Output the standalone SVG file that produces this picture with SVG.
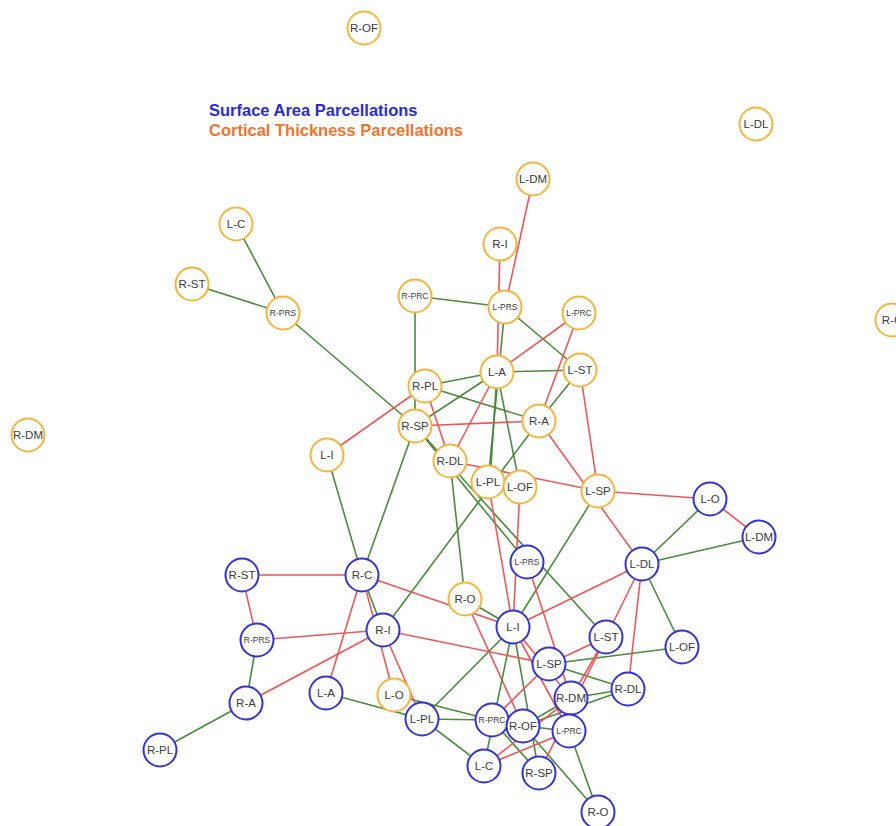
<svg xmlns="http://www.w3.org/2000/svg" width="896" height="826" viewBox="0 0 896 826">
<style>
.g{stroke:#4b8a3e;stroke-width:1.6;fill:none}
.r{stroke:#e8585a;stroke-width:1.6;fill:none}
.o circle{fill:#fff;stroke:#f2b440;stroke-width:2}
.b circle{fill:#fff;stroke:#3333d0;stroke-width:2}
text{font-family:"Liberation Sans",Arial,sans-serif;fill:#3a3a3a;font-size:11.5px;text-anchor:middle}
text.s{font-size:8.5px}
.leg{font-size:16.5px;font-weight:bold;text-anchor:start}
</style>
<rect width="896" height="826" fill="#fff"/>
<g id="legend">
<text class="leg" x="209" y="116" style="fill:#2b2bd0">Surface Area Parcellations</text>
<text class="leg" x="209" y="136" style="fill:#f07430">Cortical Thickness Parcellations</text>
</g>
<g id="connectors">
<line class="g" x1="236" y1="224" x2="283" y2="313"/>
<line class="g" x1="192" y1="284" x2="283" y2="313"/>
<line class="g" x1="283" y1="313" x2="415" y2="426"/>
<line class="g" x1="415" y1="296" x2="505" y2="307"/>
<line class="g" x1="415" y1="296" x2="415" y2="426"/>
<line class="g" x1="505" y1="307" x2="580" y2="370"/>
<line class="g" x1="505" y1="307" x2="488" y2="482"/>
<line class="g" x1="497" y1="372" x2="490" y2="482"/>
<line class="g" x1="497" y1="372" x2="520" y2="487"/>
<line class="g" x1="497" y1="372" x2="580" y2="370"/>
<line class="g" x1="425" y1="386" x2="497" y2="372"/>
<line class="g" x1="415" y1="426" x2="497" y2="372"/>
<line class="g" x1="425" y1="386" x2="539" y2="421"/>
<line class="g" x1="580" y1="370" x2="539" y2="421"/>
<line class="g" x1="539" y1="421" x2="383" y2="630"/>
<line class="g" x1="450" y1="461" x2="465" y2="599"/>
<line class="g" x1="327" y1="455" x2="362" y2="575"/>
<line class="g" x1="415" y1="426" x2="362" y2="575"/>
<line class="g" x1="415" y1="426" x2="606" y2="637"/>
<line class="g" x1="415" y1="426" x2="527" y2="562"/>
<line class="g" x1="598" y1="491" x2="513" y2="627"/>
<line class="g" x1="465" y1="599" x2="513" y2="627"/>
<line class="r" x1="533" y1="179" x2="505" y2="307"/>
<line class="r" x1="500" y1="244" x2="497" y2="372"/>
<line class="r" x1="497" y1="372" x2="579" y2="313"/>
<line class="r" x1="579" y1="313" x2="539" y2="421"/>
<line class="r" x1="497" y1="372" x2="450" y2="461"/>
<line class="r" x1="425" y1="386" x2="450" y2="461"/>
<line class="r" x1="327" y1="455" x2="425" y2="386"/>
<line class="r" x1="415" y1="426" x2="539" y2="421"/>
<line class="r" x1="580" y1="370" x2="598" y2="491"/>
<line class="r" x1="539" y1="421" x2="642" y2="564"/>
<line class="r" x1="450" y1="461" x2="598" y2="491"/>
<line class="r" x1="598" y1="491" x2="710" y2="499"/>
<line class="r" x1="520" y1="487" x2="513" y2="627"/>
<line class="r" x1="488" y1="482" x2="513" y2="627"/>
<line class="r" x1="465" y1="599" x2="523" y2="726"/>
<line class="g" x1="642" y1="564" x2="710" y2="499"/>
<line class="g" x1="642" y1="564" x2="759" y2="537"/>
<line class="g" x1="642" y1="564" x2="682" y2="647"/>
<line class="g" x1="549" y1="664" x2="682" y2="647"/>
<line class="g" x1="549" y1="664" x2="628" y2="689"/>
<line class="g" x1="628" y1="689" x2="571" y2="698"/>
<line class="g" x1="628" y1="689" x2="523" y2="726"/>
<line class="g" x1="571" y1="698" x2="523" y2="726"/>
<line class="g" x1="523" y1="726" x2="569" y2="731"/>
<line class="g" x1="523" y1="726" x2="598" y2="812"/>
<line class="g" x1="569" y1="731" x2="598" y2="812"/>
<line class="g" x1="513" y1="627" x2="484" y2="766"/>
<line class="g" x1="513" y1="627" x2="539" y2="773"/>
<line class="g" x1="513" y1="627" x2="422" y2="719"/>
<line class="g" x1="422" y1="719" x2="492" y2="720"/>
<line class="g" x1="422" y1="719" x2="484" y2="766"/>
<line class="g" x1="326" y1="693" x2="422" y2="719"/>
<line class="g" x1="394" y1="695" x2="492" y2="720"/>
<line class="g" x1="362" y1="575" x2="383" y2="630"/>
<line class="g" x1="257" y1="640" x2="246" y2="703"/>
<line class="g" x1="246" y1="703" x2="160" y2="750"/>
<line class="g" x1="492" y1="720" x2="539" y2="773"/>
<line class="r" x1="710" y1="499" x2="759" y2="537"/>
<line class="r" x1="642" y1="564" x2="513" y2="627"/>
<line class="r" x1="642" y1="564" x2="606" y2="637"/>
<line class="r" x1="642" y1="564" x2="628" y2="689"/>
<line class="r" x1="606" y1="637" x2="549" y2="664"/>
<line class="r" x1="606" y1="637" x2="571" y2="698"/>
<line class="r" x1="606" y1="637" x2="539" y2="773"/>
<line class="r" x1="513" y1="627" x2="571" y2="698"/>
<line class="r" x1="513" y1="627" x2="569" y2="731"/>
<line class="r" x1="527" y1="562" x2="571" y2="698"/>
<line class="r" x1="484" y1="766" x2="569" y2="731"/>
<line class="r" x1="484" y1="766" x2="571" y2="698"/>
<line class="r" x1="242" y1="575" x2="362" y2="575"/>
<line class="r" x1="242" y1="575" x2="257" y2="640"/>
<line class="r" x1="257" y1="640" x2="383" y2="630"/>
<line class="r" x1="246" y1="703" x2="383" y2="630"/>
<line class="r" x1="362" y1="575" x2="326" y2="693"/>
<line class="r" x1="362" y1="575" x2="394" y2="695"/>
<line class="r" x1="383" y1="630" x2="422" y2="719"/>
<line class="r" x1="362" y1="575" x2="513" y2="627"/>
<line class="r" x1="383" y1="630" x2="549" y2="664"/>
<line class="r" x1="492" y1="720" x2="549" y2="664"/>
</g>
<g id="n-ROF-ct" class="o"><circle cx="364" cy="28" r="16.5"/><text x="364" y="32">R-OF</text></g>
<g id="n-LDL-ct" class="o"><circle cx="756" cy="124" r="16.5"/><text x="756" y="128">L-DL</text></g>
<g id="n-LDM-ct" class="o"><circle cx="533" cy="179" r="16.5"/><text x="533" y="183">L-DM</text></g>
<g id="n-LC-ct" class="o"><circle cx="236" cy="224" r="16.5"/><text x="236" y="228">L-C</text></g>
<g id="n-RI-ct" class="o"><circle cx="500" cy="244" r="16.5"/><text x="500" y="248">R-I</text></g>
<g id="n-RST-ct" class="o"><circle cx="192" cy="284" r="16.5"/><text x="192" y="288">R-ST</text></g>
<g id="n-RPRS-ct" class="o"><circle cx="283" cy="313" r="16.5"/><text class="s" x="283" y="316">R-PRS</text></g>
<g id="n-RPRC-ct" class="o"><circle cx="415" cy="296" r="16.5"/><text class="s" x="415" y="299">R-PRC</text></g>
<g id="n-LPRS-ct" class="o"><circle cx="505" cy="307" r="16.5"/><text class="s" x="505" y="310">L-PRS</text></g>
<g id="n-LPRC-ct" class="o"><circle cx="579" cy="313" r="16.5"/><text class="s" x="579" y="316">L-PRC</text></g>
<g id="n-RC-ct" class="o"><circle cx="892" cy="320" r="16.5"/><text x="892" y="324">R-C</text></g>
<g id="n-RPL-ct" class="o"><circle cx="425" cy="386" r="16.5"/><text x="425" y="390">R-PL</text></g>
<g id="n-LA-ct" class="o"><circle cx="497" cy="372" r="16.5"/><text x="497" y="376">L-A</text></g>
<g id="n-LST-ct" class="o"><circle cx="580" cy="370" r="16.5"/><text x="580" y="374">L-ST</text></g>
<g id="n-RSP-ct" class="o"><circle cx="415" cy="426" r="16.5"/><text x="415" y="430">R-SP</text></g>
<g id="n-RA-ct" class="o"><circle cx="539" cy="421" r="16.5"/><text x="539" y="425">R-A</text></g>
<g id="n-LI-ct" class="o"><circle cx="327" cy="455" r="16.5"/><text x="327" y="459">L-I</text></g>
<g id="n-RDL-ct" class="o"><circle cx="450" cy="461" r="16.5"/><text x="450" y="465">R-DL</text></g>
<g id="n-LPL-ct" class="o"><circle cx="488" cy="482" r="16.5"/><text x="488" y="486">L-PL</text></g>
<g id="n-LOF-ct" class="o"><circle cx="520" cy="487" r="16.5"/><text x="520" y="491">L-OF</text></g>
<g id="n-LSP-ct" class="o"><circle cx="598" cy="491" r="16.5"/><text x="598" y="495">L-SP</text></g>
<g id="n-RDM-ct" class="o"><circle cx="28" cy="435" r="16.5"/><text x="28" y="439">R-DM</text></g>
<g id="n-RO-ct" class="o"><circle cx="465" cy="599" r="16.5"/><text x="465" y="603">R-O</text></g>
<g id="n-LO-ct" class="o"><circle cx="394" cy="695" r="16.5"/><text x="394" y="699">L-O</text></g>
<g id="n-LO-sa" class="b"><circle cx="710" cy="499" r="16.5"/><text x="710" y="503">L-O</text></g>
<g id="n-LDM-sa" class="b"><circle cx="759" cy="537" r="16.5"/><text x="759" y="541">L-DM</text></g>
<g id="n-LDL-sa" class="b"><circle cx="642" cy="564" r="16.5"/><text x="642" y="568">L-DL</text></g>
<g id="n-LPRS-sa" class="b"><circle cx="527" cy="562" r="16.5"/><text class="s" x="527" y="565">L-PRS</text></g>
<g id="n-RST-sa" class="b"><circle cx="242" cy="575" r="16.5"/><text x="242" y="579">R-ST</text></g>
<g id="n-RC-sa" class="b"><circle cx="362" cy="575" r="16.5"/><text x="362" y="579">R-C</text></g>
<g id="n-RPRS-sa" class="b"><circle cx="257" cy="640" r="16.5"/><text class="s" x="257" y="643">R-PRS</text></g>
<g id="n-RI-sa" class="b"><circle cx="383" cy="630" r="16.5"/><text x="383" y="634">R-I</text></g>
<g id="n-LI-sa" class="b"><circle cx="513" cy="627" r="16.5"/><text x="513" y="631">L-I</text></g>
<g id="n-LST-sa" class="b"><circle cx="606" cy="637" r="16.5"/><text x="606" y="641">L-ST</text></g>
<g id="n-LOF-sa" class="b"><circle cx="682" cy="647" r="16.5"/><text x="682" y="651">L-OF</text></g>
<g id="n-LSP-sa" class="b"><circle cx="549" cy="664" r="16.5"/><text x="549" y="668">L-SP</text></g>
<g id="n-RA-sa" class="b"><circle cx="246" cy="703" r="16.5"/><text x="246" y="707">R-A</text></g>
<g id="n-LA-sa" class="b"><circle cx="326" cy="693" r="16.5"/><text x="326" y="697">L-A</text></g>
<g id="n-LPL-sa" class="b"><circle cx="422" cy="719" r="16.5"/><text x="422" y="723">L-PL</text></g>
<g id="n-RPRC-sa" class="b"><circle cx="492" cy="720" r="16.5"/><text class="s" x="492" y="723">R-PRC</text></g>
<g id="n-RDL-sa" class="b"><circle cx="628" cy="689" r="16.5"/><text x="628" y="693">R-DL</text></g>
<g id="n-RDM-sa" class="b"><circle cx="571" cy="698" r="16.5"/><text x="571" y="702">R-DM</text></g>
<g id="n-ROF-sa" class="b"><circle cx="523" cy="726" r="16.5"/><text x="523" y="730">R-OF</text></g>
<g id="n-LPRC-sa" class="b"><circle cx="569" cy="731" r="16.5"/><text class="s" x="569" y="734">L-PRC</text></g>
<g id="n-LC-sa" class="b"><circle cx="484" cy="766" r="16.5"/><text x="484" y="770">L-C</text></g>
<g id="n-RSP-sa" class="b"><circle cx="539" cy="773" r="16.5"/><text x="539" y="777">R-SP</text></g>
<g id="n-RPL-sa" class="b"><circle cx="160" cy="750" r="16.5"/><text x="160" y="754">R-PL</text></g>
<g id="n-RO-sa" class="b"><circle cx="598" cy="812" r="16.5"/><text x="598" y="816">R-O</text></g>
</svg>
